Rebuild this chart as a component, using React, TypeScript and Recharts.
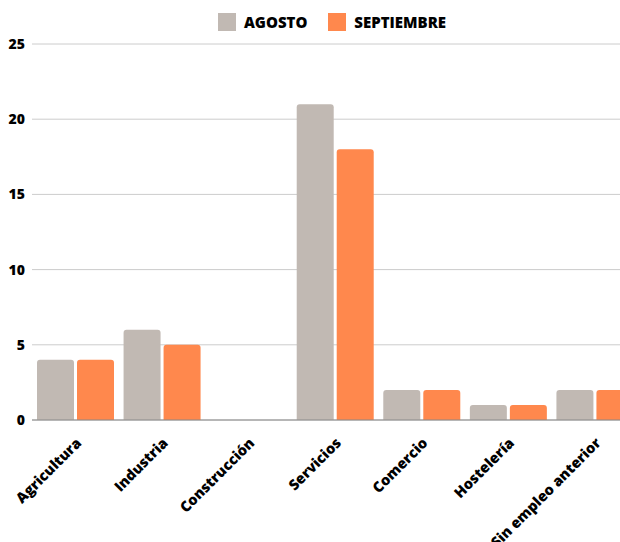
import { BarChart, Bar, XAxis, YAxis, CartesianGrid, Legend } from "recharts";

const categories = [
  "Agricultura",
  "Industria",
  "Construcción",
  "Servicios",
  "Comercio",
  "Hostelería",
  "Sin empleo anterior",
];
const agosto = [4, 6, 0, 21, 2, 1, 2];
const septiembre = [4, 5, 0, 18, 2, 1, 2];
const yTicks = [0, 5, 10, 15, 20, 25];

const GREY = "#c1b9b3";
const ORANGE = "#ff884d";
const FONT = "'Open Sans', sans-serif";

const data = categories.map((c, i) => ({
  name: c,
  agosto: agosto[i],
  septiembre: septiembre[i],
}));

const series = [
  { key: "agosto", label: "AGOSTO", color: GREY },
  { key: "septiembre", label: "SEPTIEMBRE", color: ORANGE },
];

function LegendBox() {
  return (
    <div
      style={{
        display: "flex",
        justifyContent: "center",
        gap: 21,
        fontFamily: FONT,
        fontWeight: 800,
        fontSize: 15,
        color: "#000",
      }}
    >
      {series.map((s) => (
        <div key={s.key} style={{ display: "flex", alignItems: "center" }}>
          <span
            style={{
              width: 18,
              height: 18,
              background: s.color,
              display: "inline-block",
              marginRight: 8,
            }}
          />
          <span>{s.label}</span>
        </div>
      ))}
    </div>
  );
}

function XTick(props: any) {
  const { x, y, payload } = props;
  return (
    <text
      transform={`translate(${x + 7},${y + 16}) rotate(-45)`}
      textAnchor="end"
      fontFamily={FONT}
      fontWeight={800}
      fontSize={14.5}
      fill="#000"
    >
      {payload.value}
    </text>
  );
}

export default function App() {
  return (
    <div
      style={{
        position: "fixed",
        left: 0,
        top: 0,
        width: 620,
        height: 542,
        overflow: "hidden",
        background: "#fff",
      }}
    >
      <BarChart
        width={660}
        height={542}
        data={data}
        margin={{ top: 44, right: 22, bottom: 0, left: 0 }}
        barCategoryGap={5}
        barGap={3}
      >
        <CartesianGrid vertical={false} stroke="#cccccc" />
        <Legend
          verticalAlign="middle"
          content={() => <LegendBox />}
          wrapperStyle={{ top: 12, left: 0, width: 664 }}
        />
        <XAxis
          dataKey="name"
          interval={0}
          height={122}
          tick={<XTick />}
          tickLine={false}
          axisLine={{ stroke: "#888888" }}
        />
        <YAxis
          domain={[0, 25]}
          ticks={yTicks}
          width={32}
          axisLine={false}
          tickLine={false}
          tickSize={0}
          tickMargin={7}
          tick={{ fill: "#000", fontFamily: FONT, fontWeight: 800, fontSize: 14 }}
        />
        {series.map((s) => (
          <Bar
            key={s.key}
            dataKey={s.key}
            fill={s.color}
            radius={[3, 3, 0, 0]}
            isAnimationActive={false}
          />
        ))}
      </BarChart>
    </div>
  );
}
